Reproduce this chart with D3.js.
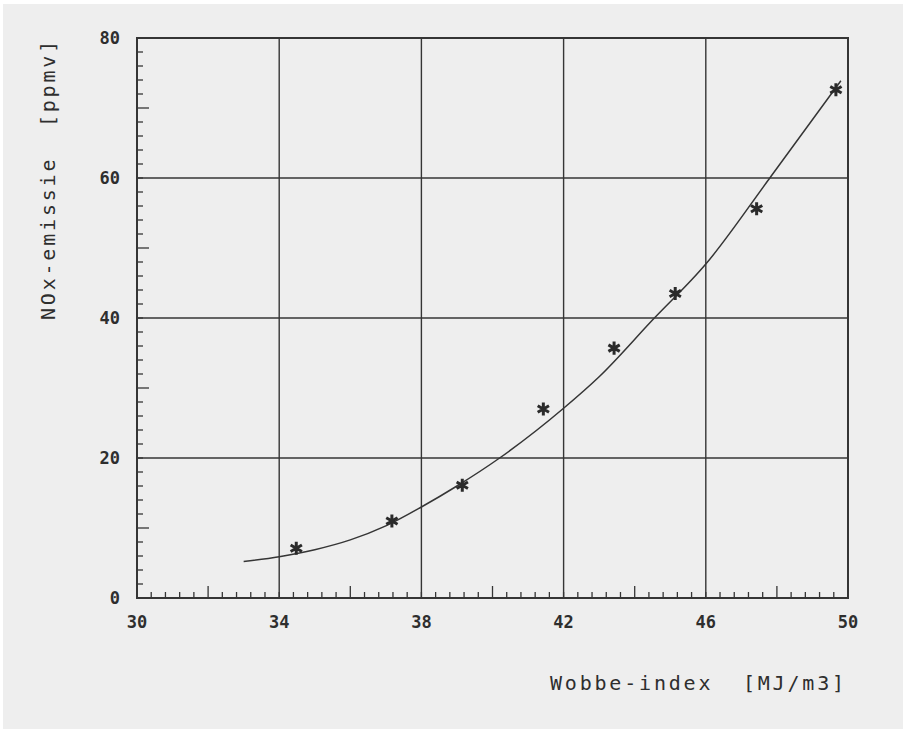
<!DOCTYPE html>
<html>
<head>
<meta charset="utf-8">
<script src="https://cdn.jsdelivr.net/npm/d3@7.9.0/dist/d3.min.js"></script>
<style>
  html, body { margin: 0; padding: 0; background: #fff; }
  svg { display: block; }
  text { font-family: "DejaVu Sans Mono", monospace; fill: #2e2e2e; }
</style>
</head>
<body>
<svg id="chart" width="906" height="733"></svg>
<script>
// measured points (Wobbe-index vs NOx)
const wobbe = [34.48, 37.17, 39.15, 41.43, 43.42, 45.14, 47.43, 49.66];
const nox = [7.1, 11.0, 16.1, 27.0, 35.7, 43.5, 55.6, 72.6];

// fitted curve
const curveX = [33, 34, 35, 36, 37, 38, 39, 40.2, 42, 43, 44.5, 46, 47.8, 49.8];
const curveY = [5.2, 5.9, 6.9, 8.3, 10.3, 13.0, 16.0, 20.0, 27.1, 31.6, 39.7, 47.7, 60.0, 73.9];

const xTicks = [30, 34, 38, 42, 46, 50];
const yTicks = [0, 20, 40, 60, 80];

const svg = d3.select('#chart');
const ink = '#353535';

// paper
svg.append('rect')
  .attr('x', 3).attr('y', 4)
  .attr('width', 900).attr('height', 725)
  .attr('fill', '#eeeeee');

const x = d3.scaleLinear().domain([30, 50]).range([137, 848]);
const y = d3.scaleLinear().domain([0, 80]).range([598, 38]);

// grid lines at major ticks
svg.append('g')
  .selectAll('line')
  .data(xTicks.slice(1, -1))
  .join('line')
  .attr('x1', d => x(d)).attr('x2', d => x(d))
  .attr('y1', y(0)).attr('y2', y(80))
  .attr('stroke', ink).attr('stroke-width', 1.4);

svg.append('g')
  .selectAll('line')
  .data(yTicks.slice(1, -1))
  .join('line')
  .attr('x1', x(30)).attr('x2', x(50))
  .attr('y1', d => y(d)).attr('y2', d => y(d))
  .attr('stroke', ink).attr('stroke-width', 1.4);

// inward minor ticks, every 0.4 on x and 2 on y, longer at the half way mark
const xMinor = d3.range(0, 51).map(i => 30 + i * 0.4);
svg.append('g')
  .selectAll('line')
  .data(xMinor)
  .join('line')
  .attr('x1', d => x(d)).attr('x2', d => x(d))
  .attr('y1', y(0))
  .attr('y2', (d, i) => y(0) - (i % 10 === 5 ? 12 : 6))
  .attr('stroke', ink).attr('stroke-width', 1.3);

const yMinor = d3.range(0, 41).map(i => i * 2);
svg.append('g')
  .selectAll('line')
  .data(yMinor)
  .join('line')
  .attr('x1', x(30))
  .attr('x2', (d, i) => x(30) + (i % 10 === 5 ? 12 : 6))
  .attr('y1', d => y(d)).attr('y2', d => y(d))
  .attr('stroke', ink).attr('stroke-width', 1.3);

// frame
svg.append('rect')
  .attr('x', x(30)).attr('y', y(80))
  .attr('width', x(50) - x(30)).attr('height', y(0) - y(80))
  .attr('fill', 'none').attr('stroke', ink).attr('stroke-width', 2);

// tick labels
svg.append('g')
  .selectAll('text')
  .data(xTicks)
  .join('text')
  .attr('x', d => x(d)).attr('y', 628)
  .attr('text-anchor', 'middle')
  .attr('font-size', 17).attr('font-weight', 'bold')
  .text(d => d);

svg.append('g')
  .selectAll('text')
  .data(yTicks)
  .join('text')
  .attr('x', 120).attr('y', d => y(d) + 6)
  .attr('text-anchor', 'end')
  .attr('font-size', 17).attr('font-weight', 'bold')
  .text(d => d);

// axis titles
svg.append('text')
  .attr('x', 550).attr('y', 690)
  .attr('font-size', 20).attr('letter-spacing', 2.8)
  .attr('xml:space', 'preserve')
  .text('Wobbe-index  [MJ/m3]');

svg.append('text')
  .attr('transform', 'translate(55,320) rotate(-90)')
  .attr('font-size', 20).attr('letter-spacing', 2.8)
  .attr('xml:space', 'preserve')
  .text('NOx-emissie  [ppmv]');

// fitted curve
const line = d3.line()
  .x(d => x(d[0]))
  .y(d => y(d[1]))
  .curve(d3.curveMonotoneX);

svg.append('path')
  .datum(d3.zip(curveX, curveY))
  .attr('d', line)
  .attr('fill', 'none')
  .attr('stroke', ink).attr('stroke-width', 1.5);

// asterisk markers
const star = d3.symbol().type(d3.symbolAsterisk).size(120);
svg.append('g')
  .selectAll('path')
  .data(d3.zip(wobbe, nox))
  .join('path')
  .attr('transform', d => `translate(${x(d[0])},${y(d[1])})`)
  .attr('d', star)
  .attr('fill', 'none')
  .attr('stroke', '#2a2a2a').attr('stroke-width', 3);
</script>
</body>
</html>
